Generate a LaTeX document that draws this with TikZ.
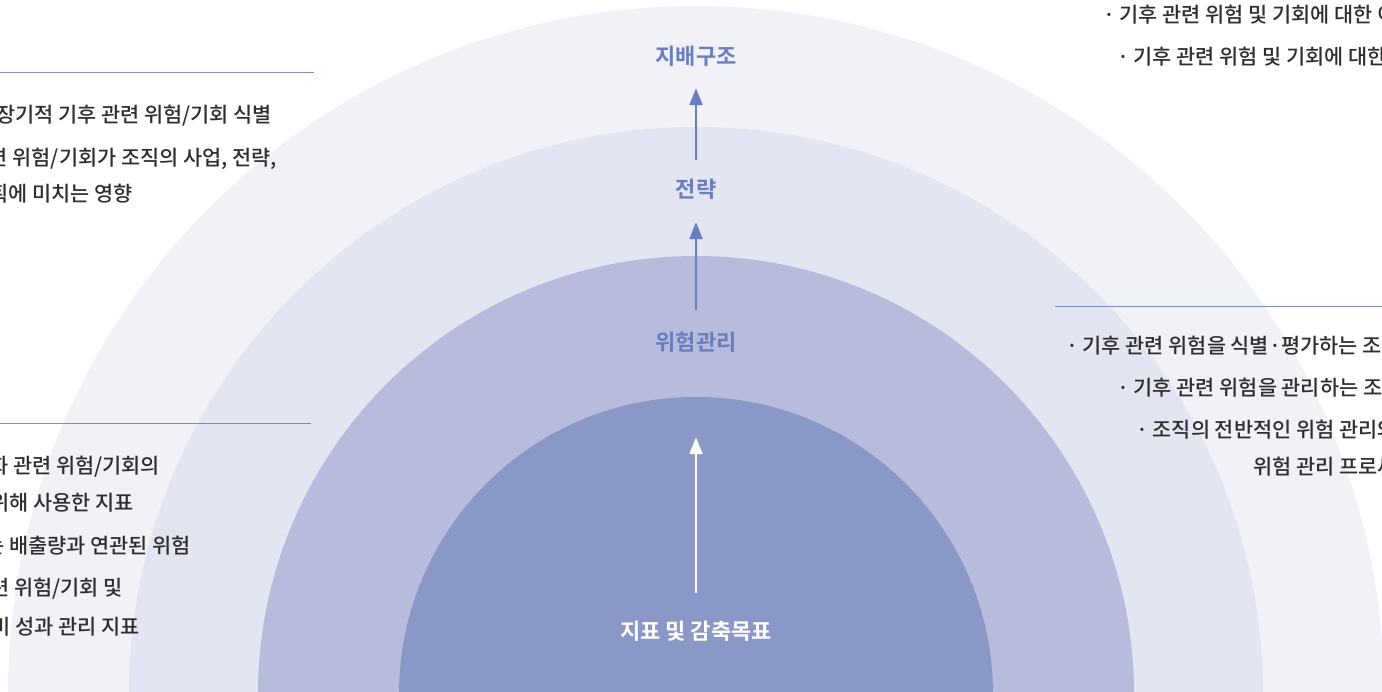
\documentclass[tikz,border=0pt]{standalone}
\usepackage{fontspec}
\setmainfont{Noto Sans CJK KR}[BoldFont={Noto Sans CJK KR Bold}]
\newfontfamily\krmed{Noto Sans CJK KR Medium}
\usetikzlibrary{arrows.meta}
\definecolor{ringA}{HTML}{F1F2F8}
\definecolor{ringB}{HTML}{E3E5F2}
\definecolor{ringC}{HTML}{B7BCDC}
\definecolor{ringD}{HTML}{8A97C7}
\definecolor{lblue}{HTML}{6A7DBE}
\definecolor{rule}{HTML}{7D8DC9}
\definecolor{body}{HTML}{2E2E2E}
\tikzset{
  lbl/.style={font=\bfseries\fontsize{22pt}{26pt}\selectfont, text=lblue, inner sep=0pt, text height=16pt, text depth=0pt},
  lblw/.style={lbl, text=white},
  txt/.style={font=\krmed\fontsize{20.8pt}{24pt}\selectfont, text=body, inner sep=0pt, text height=15.5pt, text depth=0pt},
  arr/.style={draw=lblue, line width=2pt, -{Triangle[width=13pt,length=17pt]}},
  arrw/.style={arr, draw=white},
  sep/.style={draw=rule, line width=1pt}
}
\begin{document}
\begin{tikzpicture}[x=1pt,y=-1pt]
\useasboundingbox (0,0) rectangle (1382,692);
\clip (0,0) rectangle (1382,692);
\fill[white] (0,0) rectangle (1382,692);
\fill[ringA] (696,694) circle[radius=688pt];
\fill[ringB] (696,694) circle[radius=567pt];
\fill[ringC] (696,694) circle[radius=438pt];
\fill[ringD] (696,694) circle[radius=297pt];
% separators
\coordinate (l1a) at (0,73); \coordinate (l1b) at (314,73);
\coordinate (l2a) at (0,424); \coordinate (l2b) at (311,424);
\coordinate (l3a) at (1055,307); \coordinate (l3b) at (1382,307);
\draw[sep] (l1a) -- (l1b);
\draw[sep] (l2a) -- (l2b);
\draw[sep] (l3a) -- (l3b);
% central labels
\node[lbl] (g) at (696,57) {지배구조};
\node[lbl] (s) at (696,190) {전략};
\node[lbl] (r) at (696,343) {위험관리};
\node[lblw] (m) at (696,631) {지표 및 감축목표};
\draw[arr, shorten <=22pt, shorten >=23pt] (s.north) -- (g.south);
\draw[arr, shorten <=25pt, shorten >=24pt] (r.north) -- (s.south);
\draw[arrw, shorten <=30pt, shorten >=86pt] (m.north) -- (r.south);
% left texts
\node[txt, anchor=east] (t1) at (272,115) {장기적 기후 관련 위험/기회 식별};
\node[txt, anchor=east] (t2) at (277,158) {련 위험/기회가 조직의 사업, 전략,};
\node[txt, anchor=east] (t3) at (133,194) {획에 미치는 영향};
\node[txt, anchor=east] (t4) at (160,466) {화 관련 위험/기회의};
\node[txt, anchor=east] (t5) at (134,503) {위해 사용한 지표};
\node[txt, anchor=east] (t6) at (191,546) {는 배출량과 연관된 위험};
\node[txt, anchor=east] (t7) at (123,588) {련 위험/기회 및};
\node[txt, anchor=east] (t8) at (140,627) {비 성과 관리 지표};
% right texts
\node[txt, anchor=west] (u1) at (1103,15) {· 기후 관련 위험 및 기회에 대한 이};
\node[txt, anchor=west] (u2) at (1117,57) {· 기후 관련 위험 및 기회에 대한 경};
\node[txt, anchor=west] (u3) at (1066,346) {· 기후 관련 위험을 식별·평가하는 조직};
\node[txt, anchor=west] (u4) at (1117,388) {· 기후 관련 위험을 관리하는 조직};
\node[txt, anchor=west] (u5) at (1136,430) {· 조직의 전반적인 위험 관리와};
\node[txt, anchor=west] (u6) at (1253,467) {위험 관리 프로세스};
\end{tikzpicture}
\end{document}
